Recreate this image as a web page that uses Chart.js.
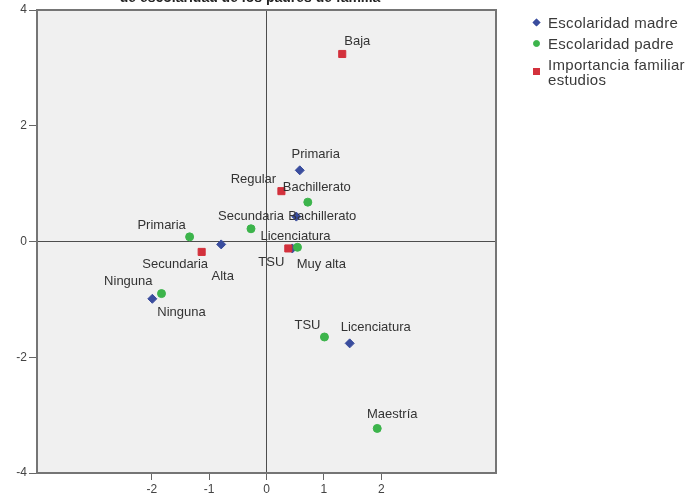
<!DOCTYPE html>
<html>
<head>
<meta charset="utf-8">
<script src="https://cdn.jsdelivr.net/npm/chart.js@4.4.0/dist/chart.umd.min.js"></script>
<style>
  body { margin: 0; background: #fff; }
  #wrap { position: relative; width: 694px; height: 500px; }
  #userDataNLegend { position: absolute; left: 530px; top: 15px; font-family: "Liberation Sans", Arial, sans-serif; font-size: 15px; letter-spacing: 0.3px; color: #3a3a3a; }
  #customLegend ul { list-style: none; margin: 0; padding: 0; }
  #customLegend li { position: relative; padding-left: 18px; line-height: 15px; margin-bottom: 6px; width: 160px; }
  #customLegend span { position: absolute; left: 3px; top: 50%; width: 7px; height: 7px; margin-top: -4px; box-sizing: border-box; border: 1px solid; }
  #customLegend p { margin: 0; }
</style>
</head>
<body>
<div id="wrap">
  <canvas id="userChart" width="694" height="500"></canvas>
  <div id="userDataNLegend"></div>
</div>
<script>
// values
const madreLabels = ["Ninguna", "Primaria", "Secundaria", "Bachillerato", "TSU", "Licenciatura"];
const madreX = [-1.99, 0.58, -0.79, 0.52, 0.45, 1.45];
const madreY = [-0.99, 1.23, -0.05, 0.43, -0.12, -1.76];

const padreLabels = ["Ninguna", "Primaria", "Secundaria", "Bachillerato", "TSU", "Licenciatura", "Maestría"];
const padreX = [-1.83, -1.34, -0.27, 0.72, 1.01, 0.54, 1.93];
const padreY = [-0.90, 0.08, 0.22, 0.68, -1.65, -0.10, -3.23];

const importLabels = ["Baja", "Regular", "Alta", "Muy alta"];
const importX = [1.32, 0.26, -1.13, 0.38];
const importY = [3.24, 0.87, -0.18, -0.12];

const seriesNames = ["Escolaridad madre", "Escolaridad padre", "Importancia familiar estudios"];
const xTickValues = [-2, -1, 0, 1, 2];
const yTickValues = [-4, -2, 0, 2, 4];

// where each point label sits relative to its point (px)
const madreLabelPos = [[-24, -17], [16, -16], [-46, 20], [26, 0], [-21, 14], [26, -16]];
const padreLabelPos = [[20, 19], [-28, -11], [0, -12], [9, -15], [-17, -12], [-2, -11], [15, -14]];
const importLabelPos = [[15, -13], [-28, -12], [21, 25], [33, 16]];

const FONT = "'Liberation Sans', Arial, sans-serif";

function toPoints(xs, ys, names) {
  return xs.map((x, i) => ({ x: x, y: ys[i], name: names[i] }));
}

// custom legend built from the chart's legend items
function generateLegend(locationID, chartName) {
  const location = document.getElementById(locationID);
  const div = document.createElement("DIV");
  div.setAttribute("id", "customLegend");
  const ul = document.createElement("UL");

  const items = chartName.legend.legendItems.slice().sort((a, b) => a.datasetIndex - b.datasetIndex);
  items.forEach((dataset) => {
    const li = document.createElement("LI");
    const spanBox = document.createElement("SPAN");
    spanBox.style.borderColor = dataset.strokeStyle;
    spanBox.style.backgroundColor = dataset.fillStyle;
    if (dataset.pointStyle === "circle") spanBox.style.borderRadius = "50%";
    if (dataset.pointStyle === "rectRot") {
      spanBox.style.transform = "rotate(45deg) scale(0.8)";
    }
    const p = document.createElement("P");
    p.appendChild(document.createTextNode(dataset.text));
    ul.appendChild(li);
    li.appendChild(spanBox);
    li.appendChild(p);
  });

  location.appendChild(div);
  div.appendChild(ul);
}

// grey plot background and frame
const framePlugin = {
  id: "frame",
  beforeDraw(chart) {
    const a = chart.chartArea;
    const ctx = chart.ctx;
    ctx.save();
    ctx.fillStyle = "#f0f0f0";
    ctx.fillRect(a.left, a.top, a.right - a.left, a.bottom - a.top);
    ctx.restore();
  },
  afterDraw(chart) {
    const a = chart.chartArea;
    const ctx = chart.ctx;
    ctx.save();
    ctx.strokeStyle = "#757575";
    ctx.lineWidth = 2;
    ctx.strokeRect(a.left, a.top, a.right - a.left, a.bottom - a.top);
    // title, cut off at the top of the picture
    ctx.fillStyle = "#222";
    ctx.font = "bold 14px " + FONT;
    ctx.textAlign = "center";
    ctx.textBaseline = "alphabetic";
    ctx.fillText("de escolaridad de los padres de familia", 250, 2);
    ctx.restore();
  },
};

// point labels
const labelPlugin = {
  id: "pointNames",
  afterDatasetsDraw(chart) {
    const ctx = chart.ctx;
    const positions = [madreLabelPos, padreLabelPos, importLabelPos];
    ctx.save();
    ctx.font = "13px " + FONT;
    ctx.fillStyle = "#333";
    ctx.textAlign = "center";
    ctx.textBaseline = "middle";
    chart.data.datasets.forEach((ds, di) => {
      const meta = chart.getDatasetMeta(di);
      meta.data.forEach((pt, i) => {
        const off = positions[di][i];
        ctx.fillText(ds.data[i].name, pt.x + off[0], pt.y + off[1]);
      });
    });
    ctx.restore();
  },
};

function zeroLine(ctx) {
  return ctx.tick && ctx.tick.value === 0 ? "#4d4d4d" : "rgba(0,0,0,0)";
}

const ctx = document.getElementById("userChart");

const dataChart = new Chart(ctx, {
  type: "scatter",
  data: {
    datasets: [
      {
        label: seriesNames[0],
        data: toPoints(madreX, madreY, madreLabels),
        pointStyle: "rectRot",
        pointRadius: 4.5,
        backgroundColor: "#3a4d9e",
        borderColor: "#3a4d9e",
        order: 3,
      },
      {
        label: seriesNames[1],
        data: toPoints(padreX, padreY, padreLabels),
        pointStyle: "circle",
        pointRadius: 4,
        backgroundColor: "#3cb44b",
        borderColor: "#3cb44b",
        order: 2,
      },
      {
        label: seriesNames[2],
        data: toPoints(importX, importY, importLabels),
        pointStyle: "rect",
        pointRadius: 5,
        backgroundColor: "#d3313c",
        borderColor: "#d3313c",
        order: 1,
      },
    ],
  },
  options: {
    responsive: false,
    animation: false,
    layout: { padding: { top: 10, right: 198, left: 0, bottom: 0 } },
    scales: {
      x: {
        type: "linear",
        min: -4,
        max: 4,
        afterBuildTicks: (scale) => { scale.ticks = xTickValues.map((v) => ({ value: v })); },
        afterFit: (scale) => { scale.height = 27; },
        border: { display: false },
        grid: { color: zeroLine, lineWidth: 1, tickColor: "#666", tickLength: 7 },
        ticks: { color: "#444", font: { family: FONT, size: 12 }, padding: 2, maxRotation: 0 },
      },
      y: {
        type: "linear",
        min: -4,
        max: 4,
        afterBuildTicks: (scale) => { scale.ticks = yTickValues.map((v) => ({ value: v })); },
        afterFit: (scale) => { scale.width = 37; },
        border: { display: false },
        grid: { color: zeroLine, lineWidth: 1, tickColor: "#666", tickLength: 8 },
        ticks: { color: "#444", font: { family: FONT, size: 12 }, padding: 2 },
      },
    },
    plugins: {
      legend: { display: false },
      tooltip: { enabled: false },
    },
  },
  plugins: [framePlugin, labelPlugin],
});

generateLegend("userDataNLegend", dataChart);
</script>
</body>
</html>
